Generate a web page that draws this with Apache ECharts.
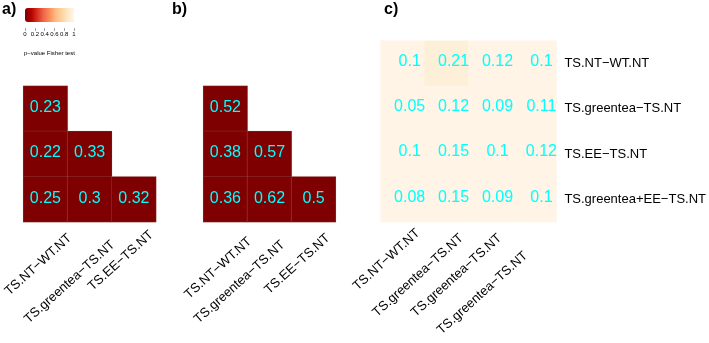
<!DOCTYPE html>
<html>
<head>
<meta charset="utf-8">
<script src="https://cdn.jsdelivr.net/npm/echarts@6/dist/echarts.min.js"></script>
<style>
    html, body { margin: 0; padding: 0; background: #fff; }
    #chart { width: 709px; height: 343px; }
</style>
</head>
<body>
<div id="chart"></div>
<script>
// 数据
const abColNames = ['TS.NT−WT.NT', 'TS.greentea−TS.NT', 'TS.EE−TS.NT']
const aValues = [[0.23], [0.22, 0.33], [0.25, 0.3, 0.32]]
const aPvals = [[0], [0, 0], [0, 0, 0]]
const bValues = [[0.52], [0.38, 0.57], [0.36, 0.62, 0.5]]
const bPvals = [[0], [0, 0], [0, 0, 0]]
const cColNames = ['TS.NT−WT.NT', 'TS.greentea−TS.NT', 'TS.greentea−TS.NT', 'TS.greentea−TS.NT']
const cRowNames = ['TS.NT−WT.NT', 'TS.greentea−TS.NT', 'TS.EE−TS.NT', 'TS.greentea+EE−TS.NT']
const cValues = [
    [0.1, 0.21, 0.12, 0.1],
    [0.05, 0.12, 0.09, 0.11],
    [0.1, 0.15, 0.1, 0.12],
    [0.08, 0.15, 0.09, 0.1]
]
const cPvals = [
    [0.975, 0.93, 0.975, 0.975],
    [0.975, 0.975, 0.975, 0.975],
    [0.975, 0.975, 0.975, 0.975],
    [0.975, 0.975, 0.975, 0.975]
]
const legendTicks = [0, 0.2, 0.4, 0.6, 0.8, 1]
const palette = ['#7f0000', '#b30000', '#d7301f', '#ef6548', '#fc8d59', '#fdbb84', '#fdd49e', '#fee8c8', '#fff7ec']

const FONT = 'Liberation Sans'

// 布局
const gridA = { left: 23.3, top: 86, width: 132.7, height: 136 }
const gridB = { left: 203.3, top: 86, width: 132.4, height: 136 }
const gridC = { left: 380.7, top: 40.7, width: 176, height: 181.3 }
const ROT = 42
// 旋转标签锚点（相对刻度中心）
const labOffA = [[24.4, 14.4], [23.5, 21.1], [17.6, 11.1]]
const labOffB = [[24.3, 17.7], [13.4, 21.1], [14.4, 14.4]]
const labOffC = [[15.4, 9.4], [14.7, 14.4], [9.1, 14.4], [-9, 32]]
const baseA = [27.5, 17.2]
const baseB = [24.5, 17.6]
const baseC = [18.1, 11.8]

// 矩阵转成热力图数据 [x, y, p, label]
function toCells(values, pvals) {
    let out = []
    values.forEach((row, y) => {
        row.forEach((v, x) => {
            out.push([x, y, pvals[y][x], v])
        })
    })
    return out
}

// 每个标签单独偏移（rich padding）
function labelRich(offsets, base) {
    let c = Math.cos(ROT * Math.PI / 180)
    let s = Math.sin(ROT * Math.PI / 180)
    let rich = {}
    offsets.forEach((o, i) => {
        let sx = o[0] - base[0]
        let sy = o[1] - base[1]
        let a = Math.max(0, -sx * c + sy * s)
        let b = Math.max(0, -sx * s - sy * c)
        rich['l' + i] = {
            fontSize: 13,
            fontFamily: FONT,
            color: '#000',
            padding: [0, a, 2 * b, 0]
        }
    })
    return rich
}

function shiftGrid(g, dx) {
    return { left: g.left + dx, top: g.top, width: g.width, height: g.height }
}

function hiddenAxis(gridIndex, data, inverse) {
    return { type: 'category', gridIndex, data, show: false, inverse }
}

function labelAxis(gridIndex, names, offsets, base) {
    return {
        type: 'category',
        gridIndex,
        data: names,
        axisLine: { show: false },
        axisTick: { show: false },
        axisLabel: {
            interval: 0,
            rotate: ROT,
            margin: base[1],
            fontSize: 13,
            fontFamily: FONT,
            color: '#000',
            formatter: (v, i) => '{l' + i + '|' + v + '}',
            rich: labelRich(offsets, base)
        }
    }
}

function cellSeries(idx, data, offset, withBorder) {
    return {
        type: 'heatmap',
        xAxisIndex: idx,
        yAxisIndex: idx,
        data,
        itemStyle: withBorder ? { borderColor: 'rgba(160,160,160,0.35)', borderWidth: 0.5 } : {},
        label: {
            show: true,
            formatter: p => String(p.data[3]),
            color: '#00ffff',
            fontSize: 16,
            fontFamily: FONT,
            offset
        },
        emphasis: { disabled: true }
    }
}

let chart = echarts.init(document.getElementById('chart'))
let option = {
    animation: false,
    backgroundColor: '#fff',
    title: [
        { text: 'a)', left: 2, top: 2, padding: 0, textStyle: { fontSize: 16, fontWeight: 'bold', fontFamily: FONT, color: '#000' } },
        { text: 'b)', left: 172, top: 2, padding: 0, textStyle: { fontSize: 16, fontWeight: 'bold', fontFamily: FONT, color: '#000' } },
        { text: 'c)', left: 384, top: 2, padding: 0, textStyle: { fontSize: 16, fontWeight: 'bold', fontFamily: FONT, color: '#000' } },
        { text: 'p−value Fisher test', left: 24, top: 50, padding: 0, textStyle: { fontSize: 6, fontWeight: 'normal', fontFamily: FONT, color: '#000' } }
    ],
    visualMap: {
        type: 'continuous',
        min: 0,
        max: 1,
        dimension: 2,
        seriesIndex: [0, 1, 2],
        orient: 'horizontal',
        left: 25,
        top: 8,
        padding: 0,
        itemWidth: 14,
        itemHeight: 49,
        calculable: false,
        hoverLink: false,
        text: null,
        inRange: { color: palette }
    },
    grid: [
        gridA, gridB, gridC,
        shiftGrid(gridA, baseA[0]),
        shiftGrid(gridB, baseB[0]),
        shiftGrid(gridC, baseC[0]),
        { left: 25, top: 27, width: 49, height: 1 }
    ],
    xAxis: [
        hiddenAxis(0, abColNames, false),
        hiddenAxis(1, abColNames, false),
        hiddenAxis(2, cColNames, false),
        labelAxis(3, abColNames, labOffA, baseA),
        labelAxis(4, abColNames, labOffB, baseB),
        labelAxis(5, cColNames, labOffC, baseC),
        {
            type: 'value',
            gridIndex: 6,
            min: legendTicks[0],
            max: legendTicks[legendTicks.length - 1],
            interval: 0.2,
            axisLine: { show: false },
            axisTick: { show: true, length: 3, lineStyle: { color: '#666', width: 0.6 } },
            splitLine: { show: false },
            axisLabel: { fontSize: 6, margin: 3, fontFamily: FONT, color: '#000' }
        }
    ],
    yAxis: [
        hiddenAxis(0, ['1', '2', '3'], true),
        hiddenAxis(1, ['1', '2', '3'], true),
        {
            type: 'category',
            gridIndex: 2,
            data: cRowNames,
            inverse: true,
            position: 'right',
            axisLine: { show: false },
            axisTick: { show: false },
            axisLabel: { margin: 8, fontSize: 13, fontFamily: FONT, color: '#000' }
        },
        { type: 'value', gridIndex: 3, show: false },
        { type: 'value', gridIndex: 4, show: false },
        { type: 'value', gridIndex: 5, show: false },
        { type: 'value', gridIndex: 6, show: false }
    ],
    series: [
        cellSeries(0, toCells(aValues, aPvals), [0, -1], true),
        cellSeries(1, toCells(bValues, bPvals), [0, -1], true),
        cellSeries(2, toCells(cValues, cPvals), [7, -2], false)
    ]
}
chart.setOption(option)
</script>
</body>
</html>
